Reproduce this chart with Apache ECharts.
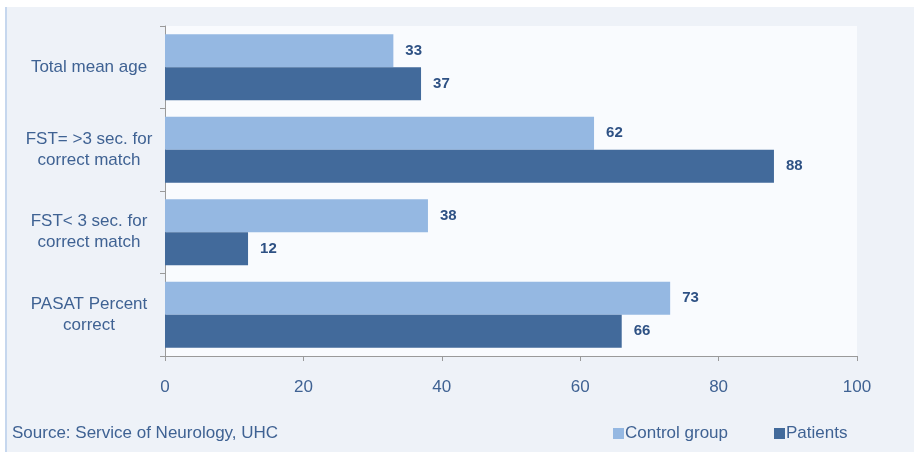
<!DOCTYPE html>
<html>
<head>
<meta charset="utf-8">
<script src="https://cdn.jsdelivr.net/npm/echarts@6/dist/echarts.min.js"></script>
<style>
  html, body { margin: 0; padding: 0; background: #ffffff; }
  #chart { width: 914px; height: 452px; }
</style>
</head>
<body>
<div id="chart"></div>
<script>
// chart data
const categories = [
  'Total mean age',
  'FST= >3 sec. for\ncorrect match',
  'FST< 3 sec. for\ncorrect match',
  'PASAT Percent\ncorrect'
];
const controlGroup = [33, 62, 38, 73];
const patients = [37, 88, 12, 66];
const seriesNames = ['Control group', 'Patients'];
const sourceNote = 'Source: Service of Neurology, UHC';

const chart = echarts.init(document.getElementById('chart'), null, { renderer: 'canvas' });

const textColor = '#3f6293';
const labelStyle = {
  show: true,
  position: 'right',
  distance: 12,
  color: '#2e5184',
  fontWeight: 'bold',
  fontSize: 15,
  fontFamily: 'Liberation Sans'
};

chart.setOption({
  animation: false,
  textStyle: { fontFamily: 'Liberation Sans' },
  graphic: [
    {
      type: 'rect',
      z: -10,
      shape: { x: 5, y: 7, width: 909, height: 445 },
      style: { fill: '#eef2f8' }
    },
    {
      type: 'rect',
      z: -9,
      shape: { x: 5, y: 7, width: 2, height: 445 },
      style: { fill: '#c6d7ee' }
    },
    {
      type: 'text',
      left: 12,
      top: 425,
      style: { text: sourceNote, fill: textColor, fontSize: 17, fontFamily: 'Liberation Sans' }
    }
  ],
  legend: {
    data: seriesNames,
    left: 608,
    top: 420,
    icon: 'rect',
    itemWidth: 11,
    itemHeight: 11,
    itemGap: 46,
    textStyle: { color: textColor, fontSize: 17, padding: [0, 0, 0, -4] }
  },
  grid: {
    left: 165,
    right: 57,
    top: 26,
    bottom: 96,
    show: true,
    backgroundColor: '#f9fbfe',
    borderWidth: 0
  },
  xAxis: {
    type: 'value',
    min: 0,
    max: 100,
    interval: 20,
    axisLine: { show: true, lineStyle: { color: '#9a9a9a' } },
    axisTick: { show: true, length: 5, lineStyle: { color: '#9a9a9a' } },
    splitLine: { show: false },
    axisLabel: { color: textColor, fontSize: 17, margin: 23 }
  },
  yAxis: {
    type: 'category',
    inverse: true,
    data: categories,
    axisLine: { show: true, lineStyle: { color: '#9a9a9a' } },
    axisTick: { show: true, length: 5, lineStyle: { color: '#9a9a9a' } },
    axisLabel: { color: textColor, fontSize: 17, lineHeight: 21, align: 'center', margin: 76 }
  },
  series: [
    {
      name: seriesNames[0],
      type: 'bar',
      data: controlGroup,
      barGap: 0,
      barCategoryGap: '20%',
      itemStyle: { color: '#95b8e2' },
      label: labelStyle
    },
    {
      name: seriesNames[1],
      type: 'bar',
      data: patients,
      itemStyle: { color: '#426a9b' },
      label: labelStyle
    }
  ]
});
</script>
</body>
</html>
